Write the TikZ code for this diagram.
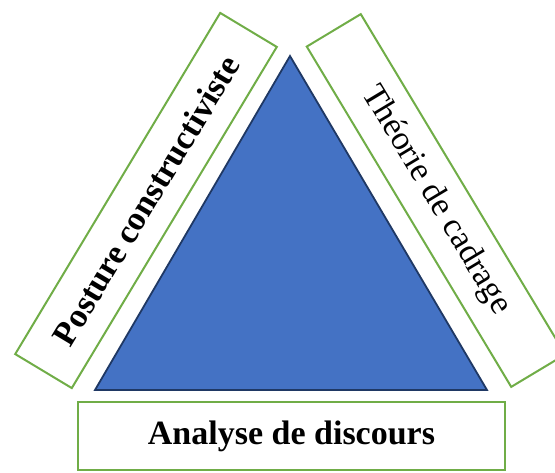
\documentclass[tikz,border=0pt]{standalone}
\usepackage{fontspec}
\setmainfont{Liberation Serif}
\definecolor{boxgreen}{HTML}{70AD47}
\definecolor{triblue}{HTML}{4472C4}
\definecolor{trinavy}{HTML}{1F3864}
\begin{document}
\begin{tikzpicture}[x=1pt,y=-1pt,
  labelbox/.style={draw=boxgreen, line width=2pt, fill=white, inner sep=0pt,
    font=\fontsize{34}{40}\selectfont, text=black},
  tri/.style={fill=triblue, draw=trinavy, line width=1.8pt, line join=miter}]
\useasboundingbox (0,0) rectangle (555,472);
\coordinate (apex) at (290,56);
\coordinate (bl) at (95,390);
\coordinate (br) at (487,390);
\draw[tri] (apex) -- (bl) -- (br) -- cycle;
\node[labelbox, minimum width=398pt, minimum height=66pt, rotate=59] (left) at (146,200.5) {\bfseries Posture constructiviste};
\node[labelbox, minimum width=397pt, minimum height=63pt, rotate=-59] (right) at (436,200.5) {Théorie de cadrage};
\node[labelbox, minimum width=427pt, minimum height=68pt] (bottom) at (291.5,436) {\bfseries Analyse de discours};
\end{tikzpicture}
\end{document}
